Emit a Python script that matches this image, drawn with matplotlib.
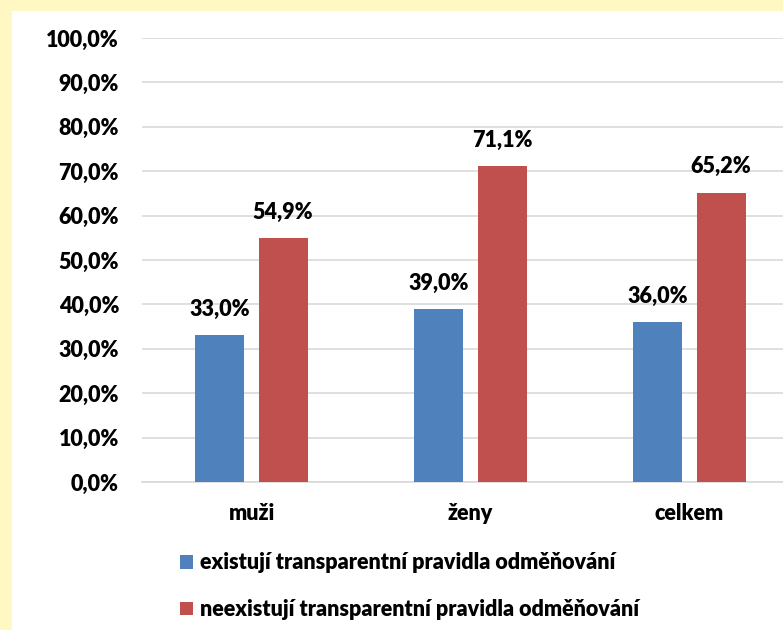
import matplotlib
matplotlib.use("Agg")
import matplotlib.pyplot as plt
from matplotlib.patches import Rectangle
import numpy as np

categories = ["muži", "ženy", "celkem"]
existuji = [33.0, 39.0, 36.0]
neexistuji = [54.9, 71.1, 65.2]
series_names = ["existují transparentní pravidla odměňování",
                "neexistují transparentní pravidla odměňování"]
yticks = [0, 10, 20, 30, 40, 50, 60, 70, 80, 90, 100]

BLUE = "#4F81BD"
RED = "#C0504D"
YELLOW = "#FFF8C2"
FONT = ["Lato", "DejaVu Sans"]
FS = 15.5
WEIGHT = "heavy"

plt.rcParams["font.family"] = FONT
plt.rcParams["font.weight"] = WEIGHT

W, H = 783, 630
fig = plt.figure(figsize=(W / 100, H / 100), dpi=100)
fig.patch.set_facecolor("white")

# yellow frame along the left and top edges
fig.patches.append(Rectangle((0, 0), 12 / W, 1, transform=fig.transFigure,
                             facecolor=YELLOW, edgecolor="none", zorder=0))
fig.patches.append(Rectangle((0, 1 - 11 / H), 1, 11 / H, transform=fig.transFigure,
                             facecolor=YELLOW, edgecolor="none", zorder=0))

left, right = 142 / W, 799 / W
bottom, top = 1 - 482 / H, 1 - 38 / H
ax = fig.add_axes([left, bottom, right - left, top - bottom])
ax.set_facecolor("none")

x = np.arange(len(categories))
bw = 0.224
off = 0.144
b1 = ax.bar(x - off, existuji, bw, color=BLUE, label=series_names[0], zorder=3)
b2 = ax.bar(x + off, neexistuji, bw, color=RED, label=series_names[1], zorder=3)

for bars, vals in ((b1, existuji), (b2, neexistuji)):
    for rect, v in zip(bars, vals):
        ax.annotate(f"{v:.1f}%".replace(".", ","),
                    (rect.get_x() + rect.get_width() / 2, v),
                    xytext=(0, 11), textcoords="offset points",
                    ha="center", va="bottom", fontsize=FS, fontweight=WEIGHT)

ax.set_xlim(-0.5, len(categories) - 0.5)
ax.set_ylim(0, 100)
ax.set_yticks(yticks)
ax.set_yticklabels([f"{t:.1f}%".replace(".", ",") for t in yticks])
ax.set_xticks(x)
ax.set_xticklabels(categories)
ax.tick_params(axis="both", length=0, labelsize=FS)
ax.tick_params(axis="y", pad=16.5)
ax.tick_params(axis="x", pad=15)
for lbl in ax.get_xticklabels() + ax.get_yticklabels():
    lbl.set_fontweight(WEIGHT)

ax.yaxis.grid(True, color="#D9D9D9", linewidth=1.2, zorder=0)
ax.set_axisbelow(True)
for s in ("top", "right", "left"):
    ax.spines[s].set_visible(False)
ax.spines["bottom"].set_color("#D9D9D9")
ax.spines["bottom"].set_linewidth(1.2)

fig.legend(handles=[b1, b2], labels=series_names, loc="upper left",
           bbox_to_anchor=(161 / W, 1 - 533 / H), frameon=False,
           handlelength=0.6, handleheight=0.6, handletextpad=0.3,
           labelspacing=1.2, prop={"family": FONT, "weight": WEIGHT, "size": FS})

fig.savefig("out.png", dpi=100)
